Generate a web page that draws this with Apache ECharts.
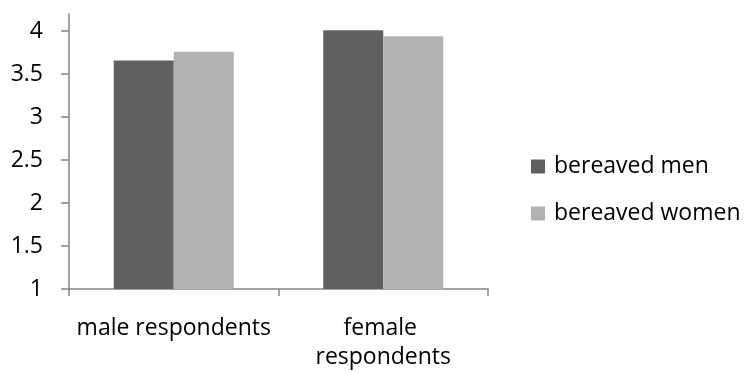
<!DOCTYPE html>
<html>
<head>
<meta charset="utf-8">
<script src="https://cdn.jsdelivr.net/npm/echarts@6/dist/echarts.min.js"></script>
<style>
  html, body { margin: 0; padding: 0; background: #fff; }
  #chart { width: 746px; height: 372px; }
</style>
</head>
<body>
<div id="chart"></div>
<script>
// Respondent groups along the x axis
const categories = ['male respondents', 'female respondents'];
// Mean ratings per bereaved group
const bereavedMen = [3.66, 4.01];
const bereavedWomen = [3.76, 3.94];
const seriesNames = ['bereaved men', 'bereaved women'];
// Value axis ticks
const tickValues = [1, 1.5, 2, 2.5, 3, 3.5, 4];

const FONT = '"Open Sans", sans-serif';
const AXIS_GREY = '#868686';

const chart = echarts.init(document.getElementById('chart'), null, { renderer: 'canvas' });

chart.setOption({
  animation: false,
  backgroundColor: '#ffffff',
  grid: { left: 69, right: 258, top: 14, bottom: 79, containLabel: false },
  legend: {
    orient: 'vertical',
    left: 531,
    top: 155,
    padding: 0,
    itemWidth: 14,
    itemHeight: 14,
    itemGap: 24,
    icon: 'rect',
    textStyle: { fontFamily: FONT, fontSize: 23, color: '#000', padding: [0, 0, 0, 4] },
    data: seriesNames
  },
  xAxis: {
    type: 'category',
    data: categories,
    axisLine: { lineStyle: { color: AXIS_GREY, width: 1.5 } },
    axisTick: { show: true, length: 7, alignWithLabel: false, lineStyle: { color: AXIS_GREY, width: 1.5 } },
    axisLabel: {
      fontFamily: FONT, fontSize: 23, color: '#000', margin: 25, lineHeight: 29,
      interval: 0,
      width: 200, overflow: 'break'
    }
  },
  yAxis: {
    type: 'value',
    min: 1,
    max: 4.2,
    interval: 0.5,
    splitLine: { show: false },
    axisLine: { show: true, lineStyle: { color: AXIS_GREY, width: 1.5 } },
    axisTick: { show: true, length: 8, customValues: tickValues, lineStyle: { color: AXIS_GREY, width: 1.5 } },
    axisLabel: {
      fontFamily: FONT, fontSize: 23, color: '#000', margin: 26,
      customValues: tickValues
    }
  },
  series: [
    {
      name: seriesNames[0],
      type: 'bar',
      data: bereavedMen,
      barWidth: 60,
      barGap: '0%',
      itemStyle: { color: '#606060' }
    },
    {
      name: seriesNames[1],
      type: 'bar',
      data: bereavedWomen,
      barWidth: 60,
      barGap: '0%',
      itemStyle: { color: '#b2b2b2' }
    }
  ]
});
</script>
</body>
</html>
